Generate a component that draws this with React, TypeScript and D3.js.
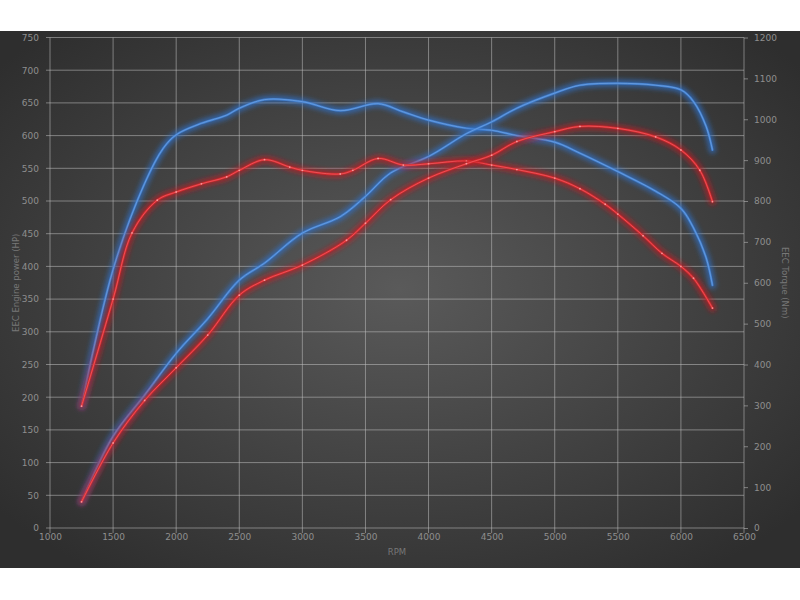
import React, { useEffect, useRef } from "react";
import * as d3 from "d3";

// RPM sample points + readings (power in HP, torque in Nm)
const bluePowerRpm = [1250, 1500, 1750, 2000, 2250, 2500, 2700, 3000, 3300, 3500, 3700, 4000, 4300, 4500, 4700, 5000, 5200, 5500, 5800, 6000, 6100, 6200, 6250];
const bluePowerHp = [40, 140, 203, 267, 320, 379, 405, 451, 476, 507, 543, 568, 603, 621, 642, 665, 677, 680, 677, 670, 652, 614, 578];

const redPowerRpm = [1250, 1500, 1750, 2000, 2250, 2500, 2700, 3000, 3350, 3500, 3700, 4000, 4300, 4500, 4700, 5000, 5200, 5500, 5800, 6000, 6150, 6250];
const redPowerHp = [40, 130, 195, 245, 295, 356, 379, 402, 440, 466, 502, 535, 557, 570, 591, 606, 614, 611, 598, 578, 547, 499];

const blueTorqueRpm = [1250, 1500, 1750, 1900, 2000, 2200, 2400, 2500, 2700, 3000, 3300, 3600, 3800, 4000, 4300, 4500, 4700, 5000, 5200, 5500, 5800, 6000, 6100, 6200, 6250];
const blueTorqueNm = [298, 632, 843, 930, 962, 990, 1010, 1027, 1048, 1043, 1021, 1038, 1018, 998, 978, 973, 960, 944, 917, 872, 824, 782, 734, 661, 594];

const redTorqueRpm = [1250, 1500, 1650, 1850, 2000, 2200, 2400, 2500, 2700, 2900, 3000, 3300, 3400, 3600, 3800, 4000, 4300, 4500, 4700, 5000, 5200, 5400, 5500, 5700, 5850, 6000, 6100, 6250];
const redTorqueNm = [298, 560, 722, 802, 822, 842, 859, 875, 901, 883, 875, 866, 875, 904, 888, 891, 898, 888, 877, 856, 830, 792, 768, 715, 672, 640, 611, 538];

const rpmTicks = [1000, 1500, 2000, 2500, 3000, 3500, 4000, 4500, 5000, 5500, 6000, 6500];
const hpTicks = d3.range(0, 751, 50);
const nmTicks = d3.range(0, 1201, 100);

const BLUE = { glow: "#2c72cc", mid: "#4282d4", core: "#7fb0ec" };
const RED = { glow: "#c41c22", mid: "#d8262e", core: "#ff7474" };

export default function App() {
  const ref = useRef<SVGSVGElement>(null);

  useEffect(() => {
    if (!ref.current) return;
    const svg = d3.select(ref.current);
    svg.selectAll("*").remove();

    const left = 50, right = 744, top = 37.5, bottom = 528;
    const x = d3.scaleLinear().domain([1000, 6500]).range([left, right]);
    const yHp = d3.scaleLinear().domain([0, 750]).range([bottom, top]);
    const yNm = d3.scaleLinear().domain([0, 1200]).range([bottom, top]);

    const defs = svg.append("defs");
    const grad = defs.append("radialGradient").attr("id", "bg").attr("cx", "50%").attr("cy", "48%").attr("r", "65%");
    grad.append("stop").attr("offset", "0%").attr("stop-color", "#5a5a5a");
    grad.append("stop").attr("offset", "100%").attr("stop-color", "#2e2e2e");
    const glow = defs.append("filter").attr("id", "glow").attr("x", "-10%").attr("y", "-10%").attr("width", "120%").attr("height", "120%");
    glow.append("feGaussianBlur").attr("stdDeviation", 2.4);

    svg.append("rect").attr("width", 800).attr("height", 600).attr("fill", "#fff");
    svg.append("rect").attr("x", 0).attr("y", 31).attr("width", 800).attr("height", 537).attr("fill", "url(#bg)");

    const font = "'DejaVu Sans', sans-serif";
    const tickColor = "#8e8e8e";
    const gridColor = "rgba(190,190,190,0.55)";

    // grid
    svg.append("g").selectAll("line").data(hpTicks).enter().append("line")
      .attr("x1", left - 4).attr("x2", right)
      .attr("y1", (d) => yHp(d)).attr("y2", (d) => yHp(d))
      .attr("stroke", gridColor).attr("stroke-width", 1);
    svg.append("g").selectAll("line").data(rpmTicks).enter().append("line")
      .attr("x1", (d) => x(d)).attr("x2", (d) => x(d))
      .attr("y1", top).attr("y2", bottom + 5)
      .attr("stroke", gridColor).attr("stroke-width", 1);

    const styleAxis = (g: d3.Selection<SVGGElement, unknown, null, undefined>) => {
      g.select(".domain").remove();
      g.selectAll(".tick line").attr("stroke", gridColor);
      g.selectAll("text").attr("fill", tickColor).attr("font-size", 9).attr("font-family", font);
    };
    svg.append("g").attr("transform", `translate(${left},0)`)
      .call(d3.axisLeft(yHp).tickValues(hpTicks).tickSize(0).tickPadding(11).tickFormat(d3.format("d")))
      .call(styleAxis);
    svg.append("g").attr("transform", `translate(0,${bottom})`)
      .call(d3.axisBottom(x).tickValues(rpmTicks).tickSize(0).tickPadding(6).tickFormat(d3.format("d")))
      .call(styleAxis);
    svg.append("g").attr("transform", `translate(${right},0)`)
      .call(d3.axisRight(yNm).tickValues(nmTicks).tickSize(4).tickPadding(6).tickFormat(d3.format("d")))
      .call(styleAxis);

    // titles
    const titleColor = "#777";
    svg.append("text").attr("transform", `translate(16,${(top + bottom) / 2}) rotate(-90)`)
      .attr("text-anchor", "middle").attr("dominant-baseline", "middle")
      .attr("font-size", 8.5).attr("font-family", font).attr("fill", titleColor).text("EEC Engine power (HP)");
    svg.append("text").attr("transform", `translate(784,${(top + bottom) / 2}) rotate(90)`)
      .attr("text-anchor", "middle").attr("dominant-baseline", "middle")
      .attr("font-size", 8.5).attr("font-family", font).attr("fill", titleColor).text("EEC Torque (Nm)");
    svg.append("text").attr("x", 397).attr("y", 555)
      .attr("text-anchor", "middle").attr("font-size", 8.5).attr("font-family", font).attr("fill", titleColor).text("RPM");

    const series = [
      { rpm: blueTorqueRpm, val: blueTorqueNm, y: yNm, c: BLUE, dots: false },
      { rpm: bluePowerRpm, val: bluePowerHp, y: yHp, c: BLUE, dots: false },
      { rpm: redTorqueRpm, val: redTorqueNm, y: yNm, c: RED, dots: true },
      { rpm: redPowerRpm, val: redPowerHp, y: yHp, c: RED, dots: true },
    ];

    series.forEach((s) => {
      const pts = s.rpm.map((r, i) => [r, s.val[i]] as [number, number]);
      const line = d3.line<[number, number]>()
        .x((d) => x(d[0]))
        .y((d) => s.y(d[1]))
        .curve(d3.curveCatmullRom.alpha(0.5));
      const g = svg.append("g");
      g.append("path").attr("d", line(pts)).attr("fill", "none")
        .attr("stroke", s.c.glow).attr("stroke-width", 7).attr("stroke-opacity", 0.7)
        .attr("stroke-linecap", "round").attr("filter", "url(#glow)");
      g.append("path").attr("d", line(pts)).attr("fill", "none")
        .attr("stroke", s.c.mid).attr("stroke-width", 2.2).attr("stroke-opacity", 0.9).attr("stroke-linecap", "round");
      g.append("path").attr("d", line(pts)).attr("fill", "none")
        .attr("stroke", s.c.core).attr("stroke-width", 0.8).attr("stroke-opacity", 0.7).attr("stroke-linecap", "round");
      if (s.dots) {
        g.selectAll("circle").data(pts).enter().append("circle")
          .attr("cx", (d) => x(d[0])).attr("cy", (d) => s.y(d[1])).attr("r", 0.9)
          .attr("fill", "#ffbcbc").attr("opacity", 0.7);
      }
    });
  }, []);

  return (
    <svg ref={ref} width={800} height={600} style={{ position: "absolute", left: 0, top: 0 }} />
  );
}
